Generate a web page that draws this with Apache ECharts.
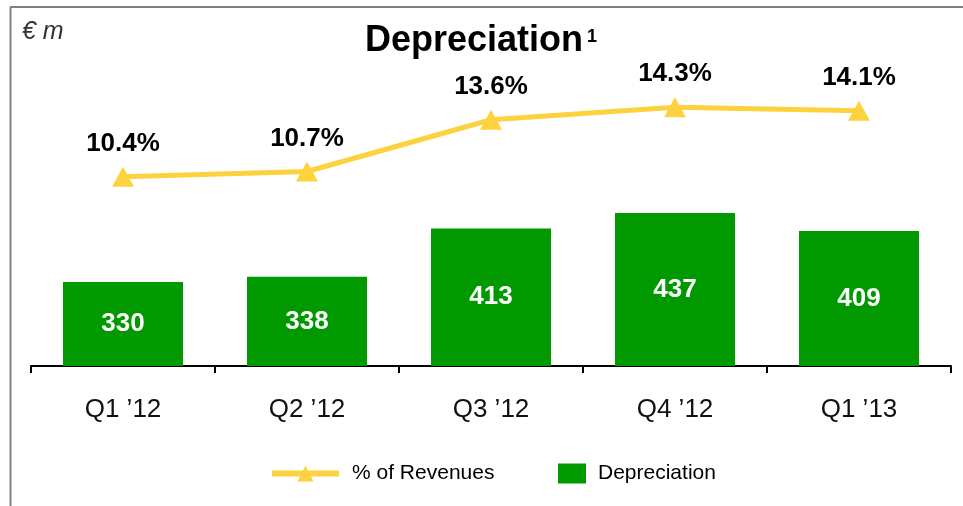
<!DOCTYPE html>
<html><head><meta charset="utf-8">
<script src="https://cdn.jsdelivr.net/npm/echarts@6/dist/echarts.min.js"></script>
<style>html,body{margin:0;padding:0;background:#fff}#c{width:963px;height:506px}</style>
</head><body><div id="c"></div>
<script>
const categories = ["Q1 \u201912", "Q2 \u201912", "Q3 \u201912", "Q4 \u201912", "Q1 \u201913"];
const depreciation = [330, 338, 413, 437, 409];
const pctRevenues = [10.4, 10.7, 13.6, 14.3, 14.1];
const seriesNames = ["% of Revenues", "Depreciation"];

const FONT = "Liberation Sans, Arial, sans-serif";
const chart = echarts.init(document.getElementById('c'));
chart.setOption({
  animation: false,
  backgroundColor: '#fff',
  title: {
    text: '{a|Depreciation}{b|1}',
    left: 481, top: 20, textAlign: 'center', padding: 0,
    textStyle: {
      rich: {
        a: { fontFamily: FONT, fontWeight: 'bold', fontSize: 36, color: '#000', lineHeight: 42 },
        b: { fontFamily: FONT, fontWeight: 'bold', fontSize: 18, color: '#000', lineHeight: 42, padding: [0,0,8,4] }
      }
    }
  },
  graphic: [
    { type: 'line', shape: { x1: 10, y1: 7, x2: 963, y2: 7 }, style: { stroke: '#808080', lineWidth: 2 } },
    { type: 'line', shape: { x1: 10.5, y1: 7, x2: 10.5, y2: 506 }, style: { stroke: '#808080', lineWidth: 2 } },
    { type: 'text', left: 22, top: 20, style: { text: '\u20ac m', font: 'italic 25px ' + FONT, fill: '#33332a' } }
  ],
  legend: [
    { data: [seriesNames[0]], left: 269, top: 463, padding: 0, itemWidth: 67, itemHeight: 20,
      lineStyle: { width: 6 },
      textStyle: { fontFamily: FONT, fontSize: 21, color: '#000', padding: [0,0,0,8] } },
    { data: [seriesNames[1]], left: 558, top: 463, padding: 0, itemWidth: 28, itemHeight: 20, icon: 'rect',
      textStyle: { fontFamily: FONT, fontSize: 21, color: '#000', padding: [0,0,0,7] } }
  ],
  grid: { left: 31, right: 12, top: 43, bottom: 140, containLabel: false },
  xAxis: {
    type: 'category', data: categories,
    axisLine: { onZero: false, lineStyle: { color: '#000', width: 2 } },
    axisTick: { show: true, length: 7, lineStyle: { color: '#000', width: 2 } },
    axisLabel: { fontFamily: FONT, fontSize: 26, color: '#111', margin: 31 }
  },
  yAxis: [
    { type: 'value', min: 200, max: 700, show: false, splitLine: { show: false } },
    { type: 'value', min: -0.2, max: 17.9, show: false, splitLine: { show: false } }
  ],
  series: [
    {
      name: seriesNames[0], type: 'line', yAxisIndex: 1, data: pctRevenues, z: 5,
      symbol: 'triangle', symbolSize: [22, 20],
      lineStyle: { color: '#FCD23F', width: 5 },
      itemStyle: { color: '#FCD23F' },
      label: { show: true, position: 'top', distance: 10, formatter: p => p.value.toFixed(1) + '%',
        fontFamily: FONT, fontWeight: 'bold', fontSize: 26, color: '#000' }
    },
    {
      name: seriesNames[1], type: 'bar', yAxisIndex: 0, data: depreciation, barWidth: 120,
      itemStyle: { color: '#009900' },
      label: { show: true, position: 'inside', fontFamily: FONT, fontWeight: 'bold', fontSize: 26, color: '#fff' }
    }
  ]
});
</script></body></html>
